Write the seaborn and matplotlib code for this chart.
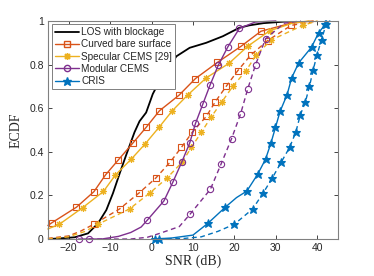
import matplotlib
matplotlib.use("Agg")
import matplotlib.pyplot as plt
from matplotlib.lines import Line2D
import seaborn as sns

# LOS with blockage (no markers)
los_x = [-25, -22, -18.5, -15.3, -12.9, -10.9, -9.3, -7.7, -6.1, -4.1, -2.9, -1.3, 0.3,
         1.8, 3.5, 6.0, 9.2, 13.2, 17.2, 21.2, 23.6, 27, 32, 38]
los_y = [0.0, 0.003, 0.008, 0.026, 0.072, 0.133, 0.21, 0.30, 0.386, 0.49, 0.54, 0.58, 0.665,
         0.72, 0.766, 0.838, 0.877, 0.90, 0.93, 0.969, 0.98, 0.99, 0.997, 1.0]

# Curved bare surface
curved_x = [-25, -24.0, -18.1, -13.9, -11.1, -8.0, -4.5, -1.3, 1.9, 6.6, 10.6, 15.9, 21.6,
            26.4, 33.7, 39]
curved_y = [0.062, 0.075, 0.146, 0.217, 0.294, 0.363, 0.44, 0.512, 0.588, 0.659, 0.736, 0.81,
            0.884, 0.953, 0.99, 1.0]
curved_mk = list(range(1, 14))
curved2_x = [-25, -20, -17, -13.9, -7.7, -2.9, 1.0, 4.5, 7.2, 9.8, 13.2, 15.4, 18.0, 20.8,
             23.9, 28.0, 33.7, 40]
curved2_y = [0.003, 0.014, 0.037, 0.068, 0.138, 0.213, 0.279, 0.353, 0.42, 0.489, 0.562,
             0.63, 0.70, 0.772, 0.843, 0.91, 0.98, 1.0]
curved2_mk = list(range(3, 17))

# Specular CEMS [29]
spec_x = [-25, -22.2, -16.6, -11.6, -8.7, -4.9, -1.5, 1.8, 5.0, 8.7, 13.2, 18.7, 23.2, 28.5,
          34, 38]
spec_y = [0.046, 0.068, 0.144, 0.218, 0.294, 0.366, 0.437, 0.512, 0.588, 0.66, 0.739, 0.806,
          0.884, 0.955, 0.99, 1.0]
spec_mk = list(range(1, 14))
spec2_x = [-25, -20, -16, -12.9, -5.3, -0.3, 3.7, 7.4, 9.6, 12.0, 14.4, 17.0, 19.6, 22.8,
           25.2, 28.8, 36.5, 40]
spec2_y = [0.0, 0.01, 0.035, 0.068, 0.138, 0.213, 0.279, 0.353, 0.42, 0.489, 0.56, 0.63,
           0.70, 0.772, 0.843, 0.912, 0.98, 1.0]
spec2_mk = list(range(3, 17))

# Modular CEMS
mod_x = [-17.6, -12, -8, -5, -2.5, -1.0, 3.0, 5.2, 7.3, 9.2, 10.6, 12.4, 14.1, 16.1, 18.4,
         21.2, 25, 30]
mod_y = [0.0, 0.0, 0.012, 0.03, 0.055, 0.087, 0.175, 0.263, 0.353, 0.44, 0.53, 0.62, 0.705,
         0.797, 0.881, 0.966, 0.995, 1.0]
mod_mk = [0] + list(range(5, 16))
mod2_x = [-15.1, -5, -1, 2.0, 6.7, 9.3, 14.2, 16.8, 19.3, 21.5, 23.2, 25.1, 27.5, 32, 36]
mod2_y = [0.0, 0.0, 0.008, 0.026, 0.057, 0.114, 0.228, 0.345, 0.46, 0.575, 0.688, 0.80,
          0.918, 0.99, 1.0]
mod2_mk = [0] + list(range(5, 13))

# CRIS
cris_x = [0.8, 5, 10, 13.6, 17.8, 20.5, 23.0, 25.6, 27.5, 28.8, 29.9, 31.0, 32.7, 33.8, 35.5,
          38.6, 40.3, 41.9, 43]
cris_y = [0.0, 0.005, 0.018, 0.072, 0.146, 0.19, 0.22, 0.297, 0.366, 0.44, 0.512, 0.585,
          0.662, 0.739, 0.808, 0.88, 0.946, 0.984, 1.0]
cris_mk = [0, 3, 4] + list(range(6, 18))
cris2_x = [1.7, 8, 12, 16, 20.0, 24.4, 27.0, 29.1, 31.3, 33.3, 34.8, 35.9, 37.1, 38.1, 39.0,
           39.9, 41.0, 42.1, 43]
cris2_y = [0.0, 0.003, 0.01, 0.035, 0.068, 0.138, 0.213, 0.279, 0.353, 0.42, 0.49, 0.57,
           0.628, 0.70, 0.777, 0.843, 0.915, 0.984, 1.0]
cris2_mk = [0] + list(range(4, 18))

labels = ["LOS with blockage", "Curved bare surface", "Specular CEMS [29]",
          "Modular CEMS", "CRIS"]
xticks = [-20, -10, 0, 10, 20, 30, 40]
yticks = [0, 0.2, 0.4, 0.6, 0.8, 1]

c_los = "black"
c_cur = "#D95319"
c_spe = "#EDB120"
c_mod = "#7E2F8E"
c_cri = "#0072BD"
asterisk = (8, 2, 0)
dashed = (0, (3.5, 2.5))

sns.set_style("ticks")
plt.rcParams["font.family"] = ["Liberation Sans", "DejaVu Sans"]

fig = plt.figure(figsize=(3.74, 2.76), dpi=100)
ax = fig.add_axes([0.128, 0.134, 0.776, 0.79])

sns.lineplot(x=los_x, y=los_y, ax=ax, color=c_los, lw=1.3, sort=False)

styles = [
    (curved_x, curved_y, curved_mk, c_cur, "-", "s", "none", 4.5),
    (curved2_x, curved2_y, curved2_mk, c_cur, dashed, "s", "none", 4.5),
    (spec_x, spec_y, spec_mk, c_spe, "-", asterisk, c_spe, 5),
    (spec2_x, spec2_y, spec2_mk, c_spe, dashed, asterisk, c_spe, 5),
    (mod_x, mod_y, mod_mk, c_mod, "-", "o", "none", 4.5),
    (mod2_x, mod2_y, mod2_mk, c_mod, dashed, "o", "none", 4.5),
    (cris_x, cris_y, cris_mk, c_cri, "-", "*", c_cri, 6.3),
    (cris2_x, cris2_y, cris2_mk, c_cri, dashed, "*", c_cri, 6.3),
]
for xs, ys, mk, col, ls, m, mfc, ms in styles:
    sns.lineplot(x=xs, y=ys, ax=ax, color=col, linestyle=ls, lw=1.0, sort=False,
                 marker=m, markevery=mk, markersize=ms, markerfacecolor=mfc,
                 markeredgecolor=col, markeredgewidth=0.8, clip_on=False)

ax.set_xlim(-25, 45)
ax.set_ylim(0, 1)
ax.set_xticks(xticks)
ax.set_yticks(yticks)
ax.set_yticklabels(["0", "0.2", "0.4", "0.6", "0.8", "1"])
ax.tick_params(direction="in", top=True, right=True, length=3, width=0.6,
               labelsize=7.5, colors="#262626", pad=3)
for s in ax.spines.values():
    s.set_color("#808080")
    s.set_linewidth(0.8)
    s.set_visible(True)

ax.set_xlabel("SNR (dB)", family="Liberation Serif", fontsize=10, labelpad=1)
ax.set_ylabel("ECDF", family="Liberation Serif", fontsize=10, labelpad=5)

handles = [
    Line2D([], [], color=c_los, lw=1.3),
    Line2D([], [], color=c_cur, lw=1.0, marker="s", ms=4.5, mfc="none", mec=c_cur),
    Line2D([], [], color=c_spe, lw=1.0, marker=asterisk, ms=5, mec=c_spe),
    Line2D([], [], color=c_mod, lw=1.0, marker="o", ms=4.5, mfc="none", mec=c_mod),
    Line2D([], [], color=c_cri, lw=1.0, marker="*", ms=6.3, mfc=c_cri, mec=c_cri),
]
leg = ax.legend(handles, labels, loc="upper left", bbox_to_anchor=(0.015, 0.985),
                borderaxespad=0, fontsize=7.2, fancybox=False, framealpha=1,
                edgecolor="#808080", handlelength=2.4, handletextpad=0.2,
                labelspacing=0.22, borderpad=0.3)
leg.get_frame().set_linewidth(0.7)
leg.set_zorder(5)

fig.savefig("out.png", dpi=100)
